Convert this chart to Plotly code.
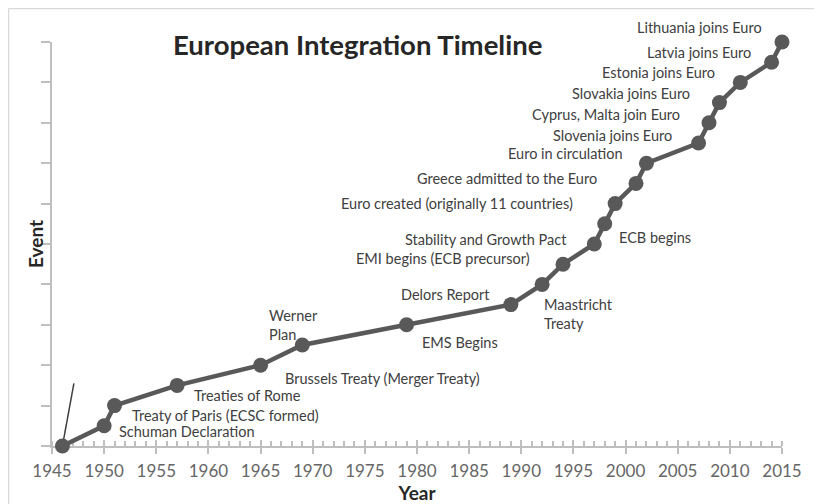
import plotly.graph_objects as go

# ---- data ----
years = [1946, 1950, 1951, 1957, 1965, 1969, 1979, 1989, 1992, 1994, 1997,
         1998, 1999, 2001, 2002, 2007, 2008, 2009, 2011, 2014, 2015]
events = [0, 1, 2, 3, 4, 5, 6, 7, 8, 9, 10,
          11, 12, 13, 14, 15, 16, 17, 18, 19, 20]
labels = ["", "Schuman Declaration", "Treaty of Paris (ECSC formed)", "Treaties of Rome",
          "Brussels Treaty (Merger Treaty)", "Werner<br>Plan", "EMS Begins", "Delors Report",
          "Maastricht<br>Treaty", "EMI begins (ECB precursor)", "Stability and Growth Pact",
          "ECB begins", "Euro created (originally 11 countries)", "Greece admitted to the Euro",
          "Euro in circulation", "Slovenia joins Euro", "Cyprus, Malta join Euro",
          "Slovakia joins Euro", "Estonia joins Euro", "Latvia joins Euro", "Lithuania joins Euro"]
stray_x = [1946, 1947.1]
stray_y = [0, 3.1]
x_ticks = [1945, 1950, 1955, 1960, 1965, 1970, 1975, 1980, 1985, 1990, 1995, 2000, 2005, 2010, 2015]

# ---- label placement (anchor, xshift, yshift) ----
placement = [None,
             ("left", 13, -6), ("left", 15, -10), ("left", 15, -10), ("left", 22, -13),
             ("left", -35, 20), ("left", 13, -18), ("right", -19, 10), ("left", 0, -30),
             ("right", -31, 6), ("right", -25, 5), ("left", 12, -14), ("right", -40, 0),
             ("right", -37, 5), ("right", -21, 10), ("right", -25, 8), ("right", -27, 8),
             ("right", -27, 9), ("right", -23, 10), ("right", -19, 10), ("right", -18, 15)]

FONT = "Lato"
DARK = "#595959"
AXIS = "#bfbfbf"

# figure geometry (page body adds an 8px offset)
W, H = 806, 496
L, T, R, B = 44, 34, 32, 58
PW, PH = W - L - R, H - T - B

fig = go.Figure()
fig.add_trace(go.Scatter(x=stray_x, y=stray_y, mode="lines",
                         line=dict(color="#404040", width=1.5), hoverinfo="skip",
                         showlegend=False, cliponaxis=False))
fig.add_trace(go.Scatter(x=years, y=events, mode="lines+markers",
                         line=dict(color=DARK, width=4.5),
                         marker=dict(color=DARK, size=15),
                         showlegend=False, cliponaxis=False))
# invisible trace to activate the overlay axis carrying the inner half of major ticks
fig.add_trace(go.Scatter(x=[x_ticks[0]], y=[events[0]], xaxis="x2", mode="markers",
                         marker=dict(opacity=0), hoverinfo="skip", showlegend=False))

for yr, ev, lab, pl in zip(years, events, labels, placement):
    if not lab:
        continue
    anchor, xs, ys = pl
    fig.add_annotation(x=yr, y=ev, xref="x", yref="y", text=lab, showarrow=False,
                       xanchor=anchor, yanchor="middle", xshift=xs, yshift=ys,
                       align="left", font=dict(family=FONT, size=14.5, color="#404040"))

fig.add_annotation(text="<b>European Integration Timeline</b>", xref="paper", yref="paper",
                   x=(349 - L) / PW, y=(T + PH - 36) / PH, xanchor="center", yanchor="middle",
                   showarrow=False, font=dict(family=FONT, size=27.5, color="#262626"))

# y-axis title as rotated text
fig.add_annotation(text="<b>Event</b>", xref="paper", yref="paper",
                   x=(27 - L) / PW, y=0.5, xanchor="center", yanchor="middle", textangle=-90,
                   showarrow=False, font=dict(family=FONT, size=19, color="#262626"))

# outer border (top and left edges only)
fig.add_shape(type="line", xref="paper", yref="paper",
              x0=(0.5 - L) / PW, x1=(W - L) / PW, y0=(T + PH - 0.5) / PH, y1=(T + PH - 0.5) / PH,
              line=dict(color="#d9d9d9", width=1.5), layer="below")
fig.add_shape(type="line", xref="paper", yref="paper",
              x0=(0.5 - L) / PW, x1=(0.5 - L) / PW, y0=(T + PH - 0.5) / PH, y1=-B / PH,
              line=dict(color="#d9d9d9", width=1.5), layer="below")

fig.update_layout(
    width=W, height=H,
    margin=dict(l=L, r=R, t=T, b=B),
    plot_bgcolor="white", paper_bgcolor="white",
    font=dict(family=FONT),
    xaxis=dict(range=[1945, 2015], tickvals=x_ticks, ticks="outside", ticklen=6,
               tickcolor=AXIS, tickwidth=1.5, showline=True, linecolor=AXIS, linewidth=1.5,
               showgrid=False, zeroline=False, layer="below traces", automargin=False,
               ticklabelstandoff=3,
               tickfont=dict(family=FONT, size=17, color="#666666"),
               minor=dict(dtick=1, ticks="inside", ticklen=5, tickcolor=AXIS, tickwidth=1.5,
                          showgrid=False),
               title=dict(text="<b>Year</b>", font=dict(family=FONT, size=19, color="#262626"),
                          standoff=6)),
    xaxis2=dict(range=[1945, 2015], overlaying="x", side="bottom", tickvals=x_ticks,
                ticks="inside", ticklen=6, tickcolor=AXIS, tickwidth=1.5,
                showticklabels=False, showline=False, showgrid=False, zeroline=False,
                layer="below traces", automargin=False),
    yaxis=dict(range=[0, 20], dtick=2, showticklabels=False, ticks="outside", ticklen=9,
               tickcolor=AXIS, tickwidth=1.5, showline=True, linecolor=AXIS, linewidth=1.5,
               showgrid=False, zeroline=False, layer="below traces", automargin=False),
)

fig.write_html("out.html")
